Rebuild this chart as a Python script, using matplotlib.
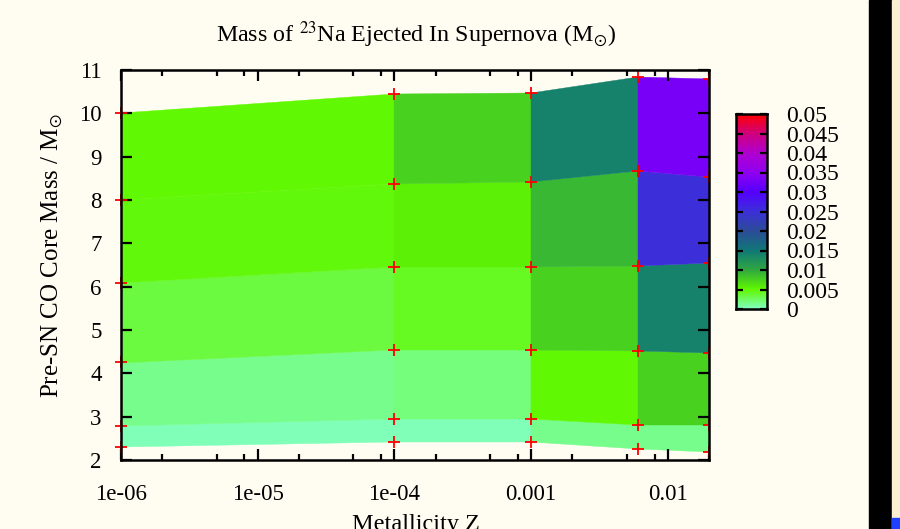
import matplotlib
matplotlib.use("Agg")
import matplotlib.pyplot as plt
import numpy as np
from matplotlib.colors import LinearSegmentedColormap, Normalize
from matplotlib.ticker import FixedLocator, NullFormatter
from matplotlib.patches import Rectangle

plt.rcParams['font.family'] = ['Liberation Serif', 'DejaVu Serif']
plt.rcParams['mathtext.fontset'] = 'stix'

# ---- data ----
metallicity = [1e-6, 1e-4, 1e-3, 0.006, 0.02]
core_mass = [
    [2.30, 2.42, 2.41, 2.25, 2.19],
    [2.78, 2.94, 2.94, 2.81, 2.80],
    [4.25, 4.53, 4.55, 4.52, 4.48],
    [6.08, 6.46, 6.46, 6.47, 6.54],
    [8.00, 8.38, 8.42, 8.67, 8.54],
    [10.00, 10.44, 10.47, 10.83, 10.79],
]
na23_mass = [
    [0.0003, 0.0003, 0.0015, 0.0015],
    [0.0015, 0.0018, 0.0050, 0.0075],
    [0.0035, 0.0042, 0.0075, 0.0140],
    [0.0048, 0.0055, 0.0090, 0.0250],
    [0.0050, 0.0075, 0.0140, 0.0330],
]
cb_ticks = [0, 0.005, 0.01, 0.015, 0.02, 0.025, 0.03, 0.035, 0.04, 0.045, 0.05]
cb_labels = ['0', '0.005', '0.01', '0.015', '0.02', '0.025', '0.03', '0.035', '0.04', '0.045', '0.05']
x_ticks = [1e-6, 1e-5, 1e-4, 1e-3, 1e-2]
x_labels = ['1e-06', '1e-05', '1e-04', '0.001', '0.01']

palette = [(0.0, '#80ffc0'), (0.1, '#60f800'), (0.2, '#30a840'), (0.3, '#107878'),
           (0.4, '#2c4c98'), (0.5, '#3c30d8'), (0.6, '#5500ff'), (0.7, '#9000f0'),
           (0.8, '#b000d0'), (0.9, '#d0007f'), (1.0, '#ff0000')]
cmap = LinearSegmentedColormap.from_list('gp', palette)
norm = Normalize(0, 0.05)

bg = '#fffcf2'
fig = plt.figure(figsize=(9, 5.29), dpi=100, facecolor=bg)
W, H = 900, 529

ax = fig.add_axes([121 / W, 1 - 460 / H, 588 / W, 390 / H])
ax.set_facecolor(bg)
ax.set_xscale('log')

X = np.array([metallicity] * len(core_mass))
Y = np.array(core_mass)
C = np.array(na23_mass)
ax.pcolormesh(X, Y, C, cmap=cmap, norm=norm, shading='flat', antialiased=True,
              edgecolors='face', linewidth=0.3)

# red grid-point markers
ax.plot(X[:, 0], Y[:, 0], '+', color='#ff0000', ms=8, mew=1.3, clip_on=False, zorder=5)
ax.plot(X[:, 1:].ravel(), Y[:, 1:].ravel(), '+', color='#ff0000', ms=8, mew=1.3,
        clip_on=True, zorder=5)

ax.set_xlim(1e-6, 0.02)
ax.set_ylim(2, 11)

ax.xaxis.set_major_locator(FixedLocator(x_ticks))
ax.set_xticklabels(x_labels)
minor = [m * d for d in [1e-6, 1e-5, 1e-4, 1e-3, 1e-2] for m in (2, 5, 8) if m * d <= 0.02]
ax.xaxis.set_minor_locator(FixedLocator(minor))
ax.xaxis.set_minor_formatter(NullFormatter())
ax.set_yticks(range(2, 12))

ax.tick_params(which='both', direction='in', top=True, right=True, width=1.6, colors='black',
               labelsize=16.5)
ax.tick_params(which='major', length=8)
ax.tick_params(which='minor', length=4)
ax.tick_params(axis='x', which='major', pad=17)
ax.tick_params(axis='y', which='major', pad=14)
for s in ax.spines.values():
    s.set_linewidth(1.8)
    s.set_zorder(6)

ax.set_ylabel(r'Pre-SN CO Core Mass / M$_{\odot}$', fontsize=18)
ax.yaxis.set_label_coords(-0.095, 0.525)

fig.text(416 / W, 1 - 42 / H, r'Mass of $^{23}$Na Ejected In Supernova (M$_{\odot}$)',
         ha='center', va='baseline', fontsize=17.3)
fig.text(416 / W, 1 - 530 / H, 'Metallicity Z', ha='center', va='baseline', fontsize=17.5)

# colorbar
cax = fig.add_axes([736 / W, 1 - 309 / H, 31 / W, 195 / H])
grad = np.linspace(0, 0.05, 256).reshape(-1, 1)
cax.imshow(grad, aspect='auto', origin='lower', cmap=cmap, norm=norm, extent=[0, 1, 0, 0.05])
cax.set_xlim(0, 1)
cax.set_ylim(0, 0.05)
cax.set_xticks([])
cax.yaxis.tick_right()
cax.set_yticks(cb_ticks)
cax.set_yticklabels(cb_labels)
cax.tick_params(axis='y', direction='in', left=True, right=True, length=5, width=1.6, pad=14,
                labelsize=17)
for s in cax.spines.values():
    s.set_linewidth(1.8)

# screenshot edge artifacts
fig.patches.append(Rectangle((869 / W, 0), 23 / W, 1, transform=fig.transFigure, color='black'))
fig.patches.append(Rectangle((892 / W, 0), 8 / W, 1, transform=fig.transFigure, color='#fdf0d2'))
fig.patches.append(Rectangle((892 / W, 0), 8 / W, 11 / H, transform=fig.transFigure, color='#2040ff'))

fig.savefig('out.png', dpi=100, facecolor=bg)
